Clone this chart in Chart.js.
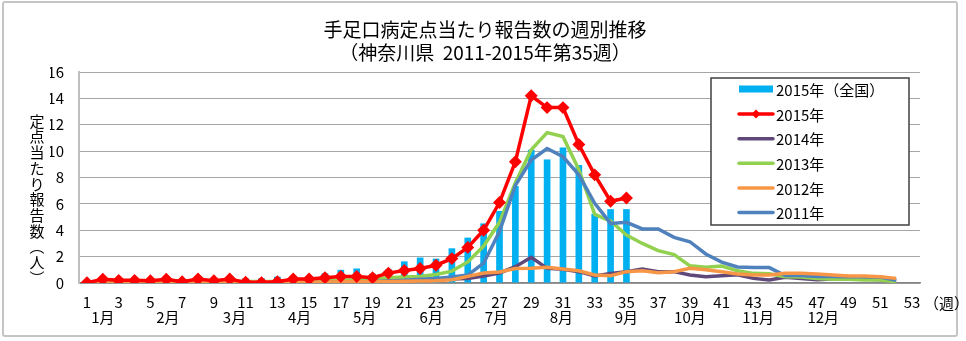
<!DOCTYPE html>
<html>
<head>
<meta charset="utf-8">
<script src="https://cdn.jsdelivr.net/npm/chart.js@4.4.0/dist/chart.umd.min.js"></script>
<style>
  html, body { margin: 0; padding: 0; background: #fff; }
  #wrap { position: relative; width: 966px; height: 341px; }
  #frame { position: absolute; left: 2px; top: 1px; width: 956px; height: 336px; border: 2px solid #c4c4c4; border-radius: 3px; box-sizing: border-box; }
  canvas { position: absolute; left: 0; top: 0; }
</style>
</head>
<body>
<div id="wrap">
  <div id="frame"></div>
  <canvas id="chart" width="966" height="341"></canvas>
</div>
<script>
// week numbers 1..53
const weeks = []
for (let w = 1; w <= 53; w++) weeks.push(String(w))

// month labels sit under the week axis, at these (fractional) week positions
const monthLabels = ['1月', '2月', '3月', '4月', '5月', '6月', '7月', '8月', '9月', '10月', '11月', '12月']
const monthWeeks = [2.0, 6.1, 10.3, 14.4, 18.5, 22.7, 26.8, 30.9, 35.0, 39.0, 43.3, 47.4]

const yTicks = [0, 2, 4, 6, 8, 10, 12, 14, 16]

// 2015 nationwide (bars)
const national2015 = [0.15, 0.18, 0.2, 0.2, 0.2, 0.2, 0.2, 0.22, 0.22, 0.25,
  0.35, 0.35, 0.48, 0.3, 0.5, 0.73, 1.0, 1.1, 0.7, 1.04,
  1.64, 1.93, 1.85, 2.63, 3.44, 4.52, 5.46, 7.35, 10.1, 9.37,
  10.27, 8.95, 5.25, 5.6, 5.6]

// Kanagawa by year
const kanagawa2015 = [0.02, 0.28, 0.2, 0.2, 0.18, 0.28, 0.1, 0.3, 0.18, 0.3,
  0.05, 0.03, 0.1, 0.3, 0.3, 0.4, 0.5, 0.5, 0.4, 0.75,
  0.95, 1.1, 1.35, 1.85, 2.7, 4.0, 6.1, 9.2, 14.2, 13.3,
  13.3, 10.5, 8.2, 6.2, 6.45]

const kanagawa2014 = [0.05, 0.05, 0.05, 0.05, 0.05, 0.05, 0.05, 0.05, 0.05, 0.05,
  0.05, 0.05, 0.05, 0.05, 0.05, 0.06, 0.08, 0.1, 0.12, 0.15,
  0.18, 0.2, 0.25, 0.3, 0.35, 0.53, 0.76, 1.24, 1.95, 1.11,
  1.04, 0.86, 0.53, 0.73, 0.86, 1.06, 0.86, 0.86, 0.61, 0.48,
  0.55, 0.62, 0.35, 0.23, 0.43, 0.35, 0.25, 0.3, 0.3, 0.3,
  0.25, 0.2]

const kanagawa2013 = [0.1, 0.1, 0.12, 0.12, 0.15, 0.15, 0.18, 0.15, 0.15, 0.12,
  0.12, 0.12, 0.12, 0.15, 0.15, 0.18, 0.2, 0.25, 0.3, 0.4,
  0.45, 0.5, 0.65, 0.9, 1.6, 2.8, 4.6, 7.6, 10.1, 11.4,
  11.1, 8.6, 5.2, 4.7, 3.64, 3.0, 2.45, 2.15, 1.3, 1.2,
  1.29, 0.93, 0.73, 0.7, 0.48, 0.45, 0.35, 0.28, 0.28, 0.23,
  0.22, 0.1]

const kanagawa2012 = [0.08, 0.08, 0.08, 0.08, 0.08, 0.08, 0.08, 0.08, 0.08, 0.08,
  0.08, 0.08, 0.08, 0.08, 0.08, 0.08, 0.1, 0.1, 0.1, 0.12,
  0.13, 0.15, 0.17, 0.25, 0.5, 0.75, 0.83, 1.1, 1.11, 1.19,
  1.06, 0.93, 0.61, 0.55, 0.86, 0.93, 0.78, 0.86, 1.11, 1.0,
  0.86, 0.68, 0.61, 0.61, 0.73, 0.73, 0.68, 0.61, 0.53, 0.53,
  0.48, 0.35]

const kanagawa2011 = [0.05, 0.05, 0.05, 0.05, 0.05, 0.05, 0.05, 0.05, 0.05, 0.05,
  0.05, 0.05, 0.05, 0.05, 0.05, 0.06, 0.08, 0.1, 0.12, 0.15,
  0.2, 0.28, 0.35, 0.45, 0.6, 1.5, 3.9, 7.4, 9.33, 10.2,
  9.58, 8.2, 6.04, 4.52, 4.6, 4.1, 4.1, 3.46, 3.13, 2.2,
  1.58, 1.22, 1.17, 1.17, 0.57, 0.57, 0.5, 0.5, 0.47, 0.47,
  0.45, 0.2]

const FONT = "'Noto Sans CJK JP', 'Noto Sans', sans-serif"

// draws the stacked y title, the boxed legend and the "(週)" unit
const extras = {
  id: 'extras',
  afterDraw(chart, args, opts) {
    const ctx = chart.ctx
    const area = chart.chartArea
    ctx.save()

    // vertical y-axis title, one character under another
    ctx.fillStyle = '#000'
    ctx.font = '15px ' + FONT
    ctx.textAlign = 'center'
    ctx.textBaseline = 'middle'
    const chars = Array.from(opts.yTitle)
    chars.forEach((c, i) => {
      ctx.fillText(c, area.left - 42, area.top + 49 + i * 15.7)
    })

    // unit after the last week tick
    const xs = chart.scales.x
    ctx.textAlign = 'left'
    ctx.font = '15px ' + FONT
    ctx.fillText('（週）', area.right + 4, xs.top + 20)

    // legend box
    const L = opts.legend
    ctx.fillStyle = '#fff'
    ctx.fillRect(L.x, L.y, L.w, L.h)
    ctx.strokeStyle = '#404040'
    ctx.lineWidth = 1.5
    ctx.strokeRect(L.x, L.y, L.w, L.h)
    ctx.font = '15px ' + FONT
    ctx.textBaseline = 'middle'
    L.order.forEach((di, row) => {
      const ds = chart.data.datasets[di]
      const y = L.y + L.firstRow + row * L.rowH
      const x0 = L.x + L.swatchX
      if (ds.type === 'bar') {
        ctx.fillStyle = ds.backgroundColor
        ctx.fillRect(x0, y - 4, L.swatchW, 7)
      } else {
        ctx.strokeStyle = ds.borderColor
        ctx.lineWidth = ds.borderWidth
        ctx.lineCap = 'round'
        ctx.beginPath()
        ctx.moveTo(x0, y)
        ctx.lineTo(x0 + L.swatchW, y)
        ctx.stroke()
        if (ds.pointRadius > 0) {
          const cx = x0 + L.swatchW / 2, r = ds.pointRadius + 0.5
          ctx.fillStyle = ds.borderColor
          ctx.beginPath()
          ctx.moveTo(cx, y - r); ctx.lineTo(cx + r, y); ctx.lineTo(cx, y + r); ctx.lineTo(cx - r, y)
          ctx.closePath()
          ctx.fill()
        }
      }
      ctx.fillStyle = '#000'
      ctx.textAlign = 'left'
      ctx.fillText(ds.label, x0 + L.swatchW + 3, y + 1)
    })
    ctx.restore()
  }
}

function line(label, data, color, order) {
  return {
    type: 'line',
    label: label,
    data: data,
    borderColor: color,
    backgroundColor: color,
    borderWidth: 3.5,
    pointRadius: 0,
    tension: 0,
    order: order
  }
}

const red = line('2015年', kanagawa2015, '#ff0000', 1)
red.pointRadius = 4
red.pointStyle = 'rectRot'

new Chart(document.getElementById('chart'), {
  data: {
    labels: weeks,
    datasets: [
      {
        type: 'bar',
        label: '2015年（全国）',
        data: national2015,
        backgroundColor: '#00b0f0',
        barPercentage: 0.42,
        categoryPercentage: 1,
        order: 6
      },
      red,
      line('2014年', kanagawa2014, '#60497a', 5),
      line('2013年', kanagawa2013, '#92d050', 4),
      line('2012年', kanagawa2012, '#f79646', 2),
      line('2011年', kanagawa2011, '#4f81bd', 3)
    ]
  },
  options: {
    responsive: false,
    animation: false,
    events: [],
    layout: { padding: { left: 50, right: 46, top: 0, bottom: 15 } },
    plugins: {
      legend: { display: false },
      tooltip: { enabled: false },
      title: {
        display: true,
        text: ['手足口病定点当たり報告数の週別推移', '（神奈川県  2011-2015年第35週）'],
        color: '#000',
        font: { family: FONT, size: 19, weight: 'normal' },
        padding: { top: 18.6, bottom: 7.8 }
      },
      extras: {
        yTitle: '定点当たり報告数︵人︶',
        legend: { x: 711, y: 78, w: 198, h: 147, firstRow: 11.5, rowH: 24.6, swatchX: 28, swatchW: 34, order: [0, 1, 2, 3, 4, 5] }
      }
    },
    scales: {
      x: {
        type: 'category',
        offset: true,
        afterFit: scale => { scale.height = 25 },
        grid: { display: false, drawTicks: false },
        border: { display: true, color: '#868686', width: 1.5 },
        ticks: {
          autoSkip: false,
          maxRotation: 0,
          padding: 10,
          color: '#000',
          font: { family: FONT, size: 15 },
          callback: function (val, i) { return i % 2 === 0 ? this.getLabelForValue(val) : '' }
        }
      },
      xMonth: {
        type: 'linear',
        position: 'bottom',
        weight: 1,
        min: 0.5,
        max: 53.5,
        afterFit: scale => { scale.height = 18 },
        grid: { display: false, drawTicks: false },
        border: { display: false },
        afterBuildTicks: axis => { axis.ticks = monthWeeks.map(v => ({ value: v })) },
        ticks: {
          autoSkip: false,
          maxRotation: 0,
          padding: 0,
          color: '#000',
          font: { family: FONT, size: 15 },
          callback: (v, i) => monthLabels[i]
        }
      },
      y: {
        min: 0,
        max: 16,
        afterBuildTicks: axis => { axis.ticks = yTicks.map(v => ({ value: v })) },
        afterFit: scale => { scale.width = 29 },
        grid: { color: '#a6a6a6', lineWidth: 1, drawTicks: false },
        border: { display: true, color: '#bfbfbf', width: 2 },
        ticks: {
          padding: 15,
          color: '#000',
          font: { family: FONT, size: 15 }
        }
      }
    }
  },
  plugins: [extras]
})
</script>
</body>
</html>
